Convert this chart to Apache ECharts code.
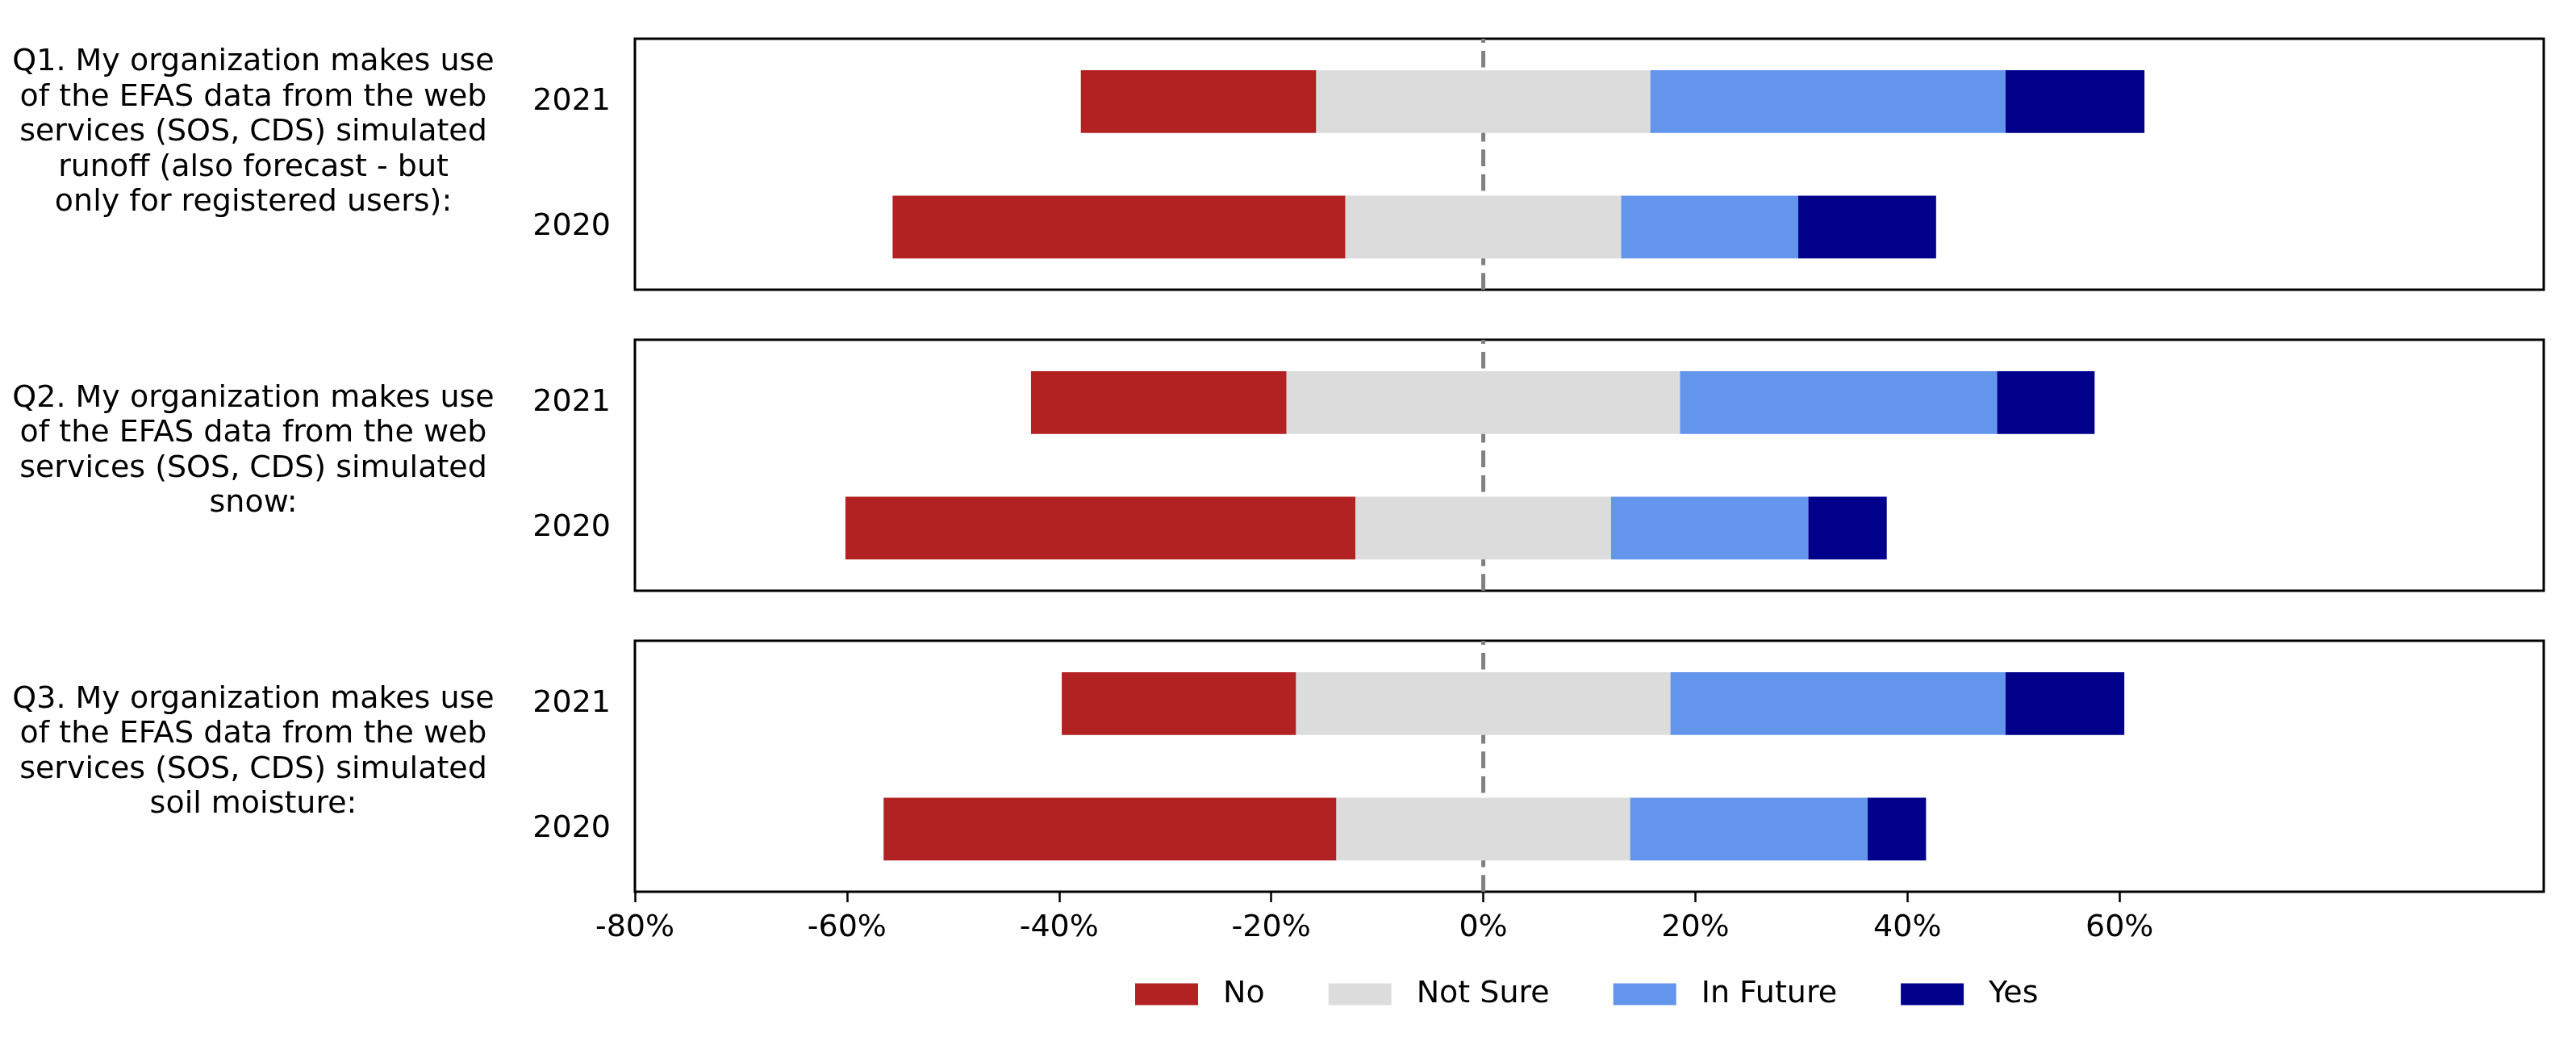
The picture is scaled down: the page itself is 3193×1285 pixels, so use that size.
<!DOCTYPE html>
<html>
<head>
<meta charset="utf-8">
<script src="https://cdn.jsdelivr.net/npm/echarts@6/dist/echarts.min.js"></script>
<style>
html, body { margin: 0; padding: 0; background: #ffffff; }
#chart { width: 3193px; height: 1285px; }
</style>
</head>
<body>
<div id="chart"></div>
<script>
// ---- data ----
const years = ['2020', '2021'];
const questionTexts = [
  'Q1. My organization makes use\nof the EFAS data from the web\nservices (SOS, CDS) simulated\nrunoff (also forecast - but\nonly for registered users):',
  'Q2. My organization makes use\nof the EFAS data from the web\nservices (SOS, CDS) simulated\nsnow:',
  'Q3. My organization makes use\nof the EFAS data from the web\nservices (SOS, CDS) simulated\nsoil moisture:'
];
const categoryNames = ['No', 'Not Sure', 'In Future', 'Yes'];
// values per question: [2020, 2021] in percent
const noPct       = [[42.7, 22.2], [48.1, 24.1], [42.7, 22.1]];
const notSurePct  = [[26.0, 31.5], [24.1, 37.1], [27.7, 35.3]];
const inFuturePct = [[16.7, 33.5], [18.6, 29.9], [22.4, 31.6]];
const yesPct      = [[13.0, 13.1], [7.4, 9.2], [5.5, 11.2]];
const xTickValues = [-80, -60, -40, -20, 0, 20, 40, 60];

// ---- styling / layout ----
const colors = ['#B22222', '#DCDCDC', '#6495ED', '#00008B'];
const FONT = 'DejaVu Sans';
const FS = 38;
const gridLeft = 787, gridWidth = 2366, gridHeight = 311;
const gridTops = [48, 421, 794];

const grids = [], xAxes = [], yAxes = [], series = [], graphics = [];
const valueSets = [noPct, notSurePct, inFuturePct, yesPct];

gridTops.forEach(function (top, g) {
  grids.push({
    left: gridLeft, top: top, width: gridWidth, height: gridHeight,
    show: true, borderColor: '#000', borderWidth: 3, backgroundColor: 'transparent'
  });
  const isBottom = g === gridTops.length - 1;
  xAxes.push({
    type: 'value', gridIndex: g, min: -80, max: 100, interval: 20,
    axisLine: { show: false },
    splitLine: { show: false },
    axisTick: isBottom ? { show: true, length: 13, customValues: xTickValues,
      lineStyle: { color: '#000', width: 2.5 } } : { show: false },
    axisLabel: isBottom ? { show: true, customValues: xTickValues, margin: 26,
      color: '#000', fontFamily: FONT, fontSize: FS,
      formatter: function (v) { return v + '%'; } } : { show: false }
  });
  yAxes.push({
    type: 'category', gridIndex: g, data: years,
    axisLine: { show: false },
    axisTick: { show: true, alignWithLabel: true, length: 14, lineStyle: { color: '#000', width: 3 } },
    axisLabel: { color: '#000', fontFamily: FONT, fontSize: FS, margin: 30, padding: [10, 0, 0, 0] },
    splitLine: { show: false }
  });

  const stackId = 'q' + g;
  const offsets = years.map(function (y, i) {
    return -(noPct[g][i] + notSurePct[g][i] / 2);
  });
  series.push({
    type: 'bar', name: 'offset', stack: stackId, stackStrategy: 'all',
    xAxisIndex: g, yAxisIndex: g, barWidth: '50%', silent: true, z: 2,
    itemStyle: { color: 'rgba(0,0,0,0)' },
    data: offsets
  });
  categoryNames.forEach(function (name, k) {
    series.push({
      type: 'bar', name: name, stack: stackId, stackStrategy: 'all',
      xAxisIndex: g, yAxisIndex: g, barWidth: '50%', z: 2,
      itemStyle: { color: colors[k] },
      data: valueSets[k][g]
    });
  });
  graphics.push({
    type: 'text', silent: true,
    style: {
      text: questionTexts[g], x: 314, y: top + gridHeight - 86,
      align: 'center', verticalAlign: 'bottom',
      fontFamily: FONT, fontSize: FS, lineHeight: 43.5, fill: '#000'
    }
  });
});

// hidden helper y axes for the dashed zero line
gridTops.forEach(function (top, g) {
  yAxes.push({ type: 'value', gridIndex: g, min: 0, max: 1, show: false });
  series.push({
    type: 'line', name: 'zero', xAxisIndex: g, yAxisIndex: gridTops.length + g,
    data: [[0, 0], [0, 1]], symbol: 'none', silent: true, z: 1,
    lineStyle: { color: '#808080', width: 5, type: [20.7, 9.9] }
  });
});

const chart = echarts.init(document.getElementById('chart'), null, { renderer: 'canvas' });
chart.setOption({
  animation: false,
  backgroundColor: '#ffffff',
  grid: grids,
  xAxis: xAxes,
  yAxis: yAxes,
  series: series,
  graphic: graphics,
  legend: {
    data: categoryNames,
    left: 1407, top: 1213, padding: 0,
    icon: 'rect', itemWidth: 78, itemHeight: 27, itemGap: 79,
    textStyle: { color: '#000', fontFamily: FONT, fontSize: FS, padding: [6, 0, 0, 26] }
  }
});
</script>
</body>
</html>
